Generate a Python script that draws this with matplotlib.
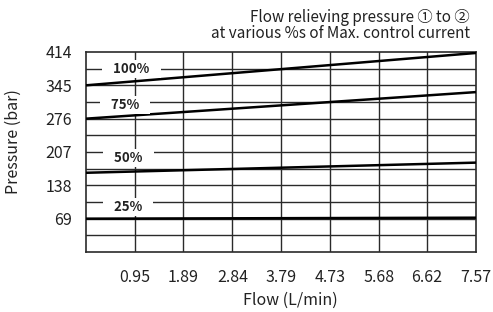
import matplotlib
matplotlib.use("Agg")
import matplotlib.pyplot as plt
import numpy as np

plt.rcParams['font.family'] = ['Noto Sans CJK SC', 'DejaVu Sans']

flow_ticks = [0.95, 1.89, 2.84, 3.79, 4.73, 5.68, 6.62, 7.57]
pressure_ticks = [69, 138, 207, 276, 345, 414]
curve_labels = ["100%", "75%", "50%", "25%"]
curve_flow = [0.0, 7.57]
curve_pressure = {
    "100%": [345, 412],
    "75%": [276, 331],
    "50%": [164, 185],
    "25%": [69, 71],
}
label_flow = [0.88, 0.76, 0.82, 0.82]
label_pressure = [379, 305, 194, 93]
title_lines = ["Flow relieving pressure ① to ②", "at various %s of Max. control current"]
xlabel = "Flow (L/min)"
ylabel = "Pressure (bar)"

fig = plt.figure(figsize=(4.93, 3.12), dpi=100)
ax = fig.add_axes([86/493, 1-252/312, 390/493, 200/312])
ax.set_xlim(0, 7.57)
ax.set_ylim(0, 414)

gc = '#2a2a2a'
for x in flow_ticks[:-1]:
    ax.axvline(x, color=gc, lw=1.0, zorder=1)
for y in np.arange(34.5, 414, 34.5):
    ax.axhline(y, color=gc, lw=1.0, zorder=1)

for name in curve_labels:
    ax.plot(curve_flow, curve_pressure[name], color='black', lw=1.8, zorder=3,
            solid_capstyle='butt')

for name, fx, py in zip(curve_labels, label_flow, label_pressure):
    ax.text(fx, py, "   " + name + "   ", ha='center', va='center', fontsize=9.5, fontweight='semibold',
            color='#222222', zorder=4,
            bbox=dict(facecolor='white', edgecolor='none', pad=1.5))

fs = 11.5
ax.set_xticks(flow_ticks)
ax.set_xticklabels([f"{v:.2f}" for v in flow_ticks])
ax.set_yticks(pressure_ticks)
ax.set_yticklabels([str(v) for v in pressure_ticks])
ax.tick_params(axis='x', length=0, pad=12, labelsize=fs, colors='#222222')
ax.tick_params(axis='y', length=0, pad=10, labelsize=fs, colors='#222222')
for s in ax.spines.values():
    s.set_color(gc)
    s.set_linewidth(1.2)

ax.set_xlabel(xlabel, fontsize=fs, color='#222222')
ax.xaxis.set_label_coords(0.525, -0.2)
ax.set_ylabel(ylabel, fontsize=fs, color='#222222')
ax.yaxis.set_label_coords(-0.165, 0.55)

fig.text(470/493, 1-17/312, title_lines[0], ha='right', va='center', fontsize=11, color='#222222')
fig.text(470/493, 1-34/312, title_lines[1], ha='right', va='center', fontsize=11, color='#222222')

fig.savefig("out.png", dpi=100)
